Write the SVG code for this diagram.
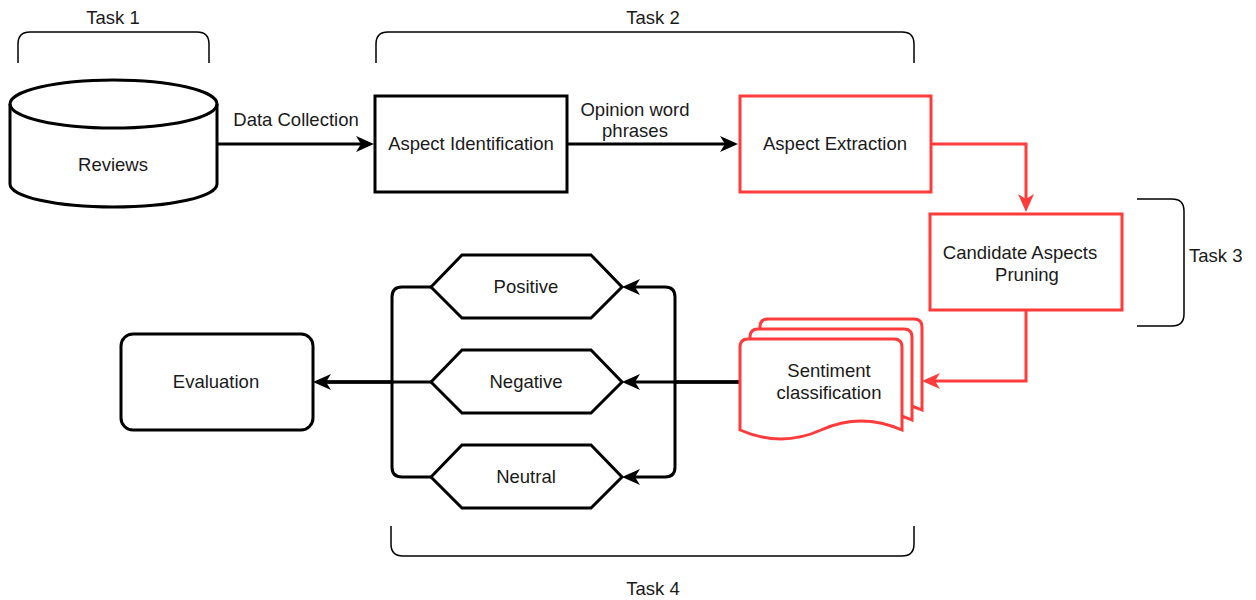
<svg xmlns="http://www.w3.org/2000/svg" width="1256" height="600" viewBox="0 0 1256 600">
<style>
text{font-family:"Liberation Sans",Arial,sans-serif;font-size:18.5px;fill:#1a1a1a}
.c{text-anchor:middle}
.blk{fill:#fff;stroke:#000;stroke-width:3}
.red{fill:#fff;stroke:#ff3b3b;stroke-width:3}
.br{fill:none;stroke:#000;stroke-width:1.5}
.e{fill:none;stroke:#000;stroke-width:3}
.er{fill:none;stroke:#ff3b3b;stroke-width:3}
</style>
<defs>
<marker id="ab" viewBox="0 0 18 16" refX="14" refY="8" markerWidth="18" markerHeight="16" markerUnits="userSpaceOnUse" orient="auto"><path d="M0,0 L18,8 L0,16 L5,8 Z" fill="#000"/></marker>
<marker id="ar" viewBox="0 0 18 16" refX="14" refY="8" markerWidth="18" markerHeight="16" markerUnits="userSpaceOnUse" orient="auto"><path d="M0,0 L18,8 L0,16 L5,8 Z" fill="#ff3b3b"/></marker>
</defs>

<g id="brackets">
<path class="br" d="M18,63 V44 Q18,32 30,32 H197 Q209,32 209,44 V63"/>
<text class="c" x="113" y="24">Task 1</text>
<path class="br" d="M376,63 V44 Q376,32 388,32 H902 Q914,32 914,44 V63"/>
<text class="c" x="653" y="24">Task 2</text>
<path class="br" d="M1137,199 H1172 Q1184,199 1184,211 V314 Q1184,326 1172,326 H1137"/>
<text x="1189" y="262">Task 3</text>
<path class="br" d="M391,526 V544 Q391,556 403,556 H902 Q914,556 914,544 V526"/>
<text class="c" x="653" y="595">Task 4</text>
</g>

<g id="connectors">
<path class="e" d="M217,144 H370" marker-end="url(#ab)"/>
<text class="c" x="296" y="126">Data Collection</text>
<path class="e" d="M567,144 H734" marker-end="url(#ab)"/>
<text class="c" x="635" y="116">Opinion word</text>
<text class="c" x="635" y="137">phrases</text>
<path class="er" d="M931,144 H1026 V208" marker-end="url(#ar)"/>
<path class="er" d="M1026,310 V381 H926" marker-end="url(#ar)"/>
<path class="e" d="M740,382 H626" marker-end="url(#ab)"/>
<path class="e" d="M740,382 H675 V297 Q675,287 665,287 H626" marker-end="url(#ab)"/>
<path class="e" d="M740,382 H675 V467 Q675,477 665,477 H626" marker-end="url(#ab)"/>
<path class="e" d="M431,382 H317" marker-end="url(#ab)"/>
<path class="e" d="M431,287 H402 Q392,287 392,297 V382 H317"/>
<path class="e" d="M431,477 H402 Q392,477 392,467 V382 H317"/>
</g>

<g id="reviews">
<path class="blk" d="M10,104 A103.5,24 0 0,1 217,104 V184 A103.5,23 0 0,1 10,184 Z"/>
<path class="e" d="M10,104 A103.5,24 0 0,0 217,104"/>
<text class="c" x="113" y="171">Reviews</text>
</g>

<g id="aspect-identification">
<rect class="blk" x="375" y="96" width="192" height="96"/>
<text class="c" x="471" y="150">Aspect Identification</text>
</g>

<g id="aspect-extraction">
<rect class="red" x="740" y="96" width="191" height="96"/>
<text class="c" x="835" y="150">Aspect Extraction</text>
</g>

<g id="candidate-pruning">
<rect class="red" x="930" y="214" width="192" height="96"/>
<text class="c" x="1020" y="259">Candidate Aspects</text>
<text class="c" x="1027" y="281">Pruning</text>
</g>

<g id="sentiment-classification">
<path class="red" d="M760,327 Q760,319 768,319 L914,319 Q922,319 922,327 L922,410 Q881,392 841,410 Q801,428 760,410 Z"/>
<path class="red" d="M750,337 Q750,329 758,329 L904,329 Q912,329 912,337 L912,420 Q871,402 831,420 Q791,438 750,420 Z"/>
<path class="red" d="M740,347 Q740,339 748,339 L894,339 Q902,339 902,347 L902,430 Q861,412 821,430 Q781,448 740,430 Z"/>
<text class="c" x="829" y="377">Sentiment</text>
<text class="c" x="829" y="399">classification</text>
</g>

<g id="positive">
<path class="blk" d="M431,287 L462,255 H591 L622,287 L591,318 H462 Z"/>
<text class="c" x="526" y="293">Positive</text>
</g>
<g id="negative">
<path class="blk" d="M431,382 L462,350 H591 L622,382 L591,413 H462 Z"/>
<text class="c" x="526" y="388">Negative</text>
</g>
<g id="neutral">
<path class="blk" d="M431,477 L462,445 H591 L622,477 L591,508 H462 Z"/>
<text class="c" x="526" y="483">Neutral</text>
</g>

<g id="evaluation">
<rect class="blk" x="121" y="334" width="192" height="96" rx="12"/>
<text class="c" x="216" y="388">Evaluation</text>
</g>
</svg>
